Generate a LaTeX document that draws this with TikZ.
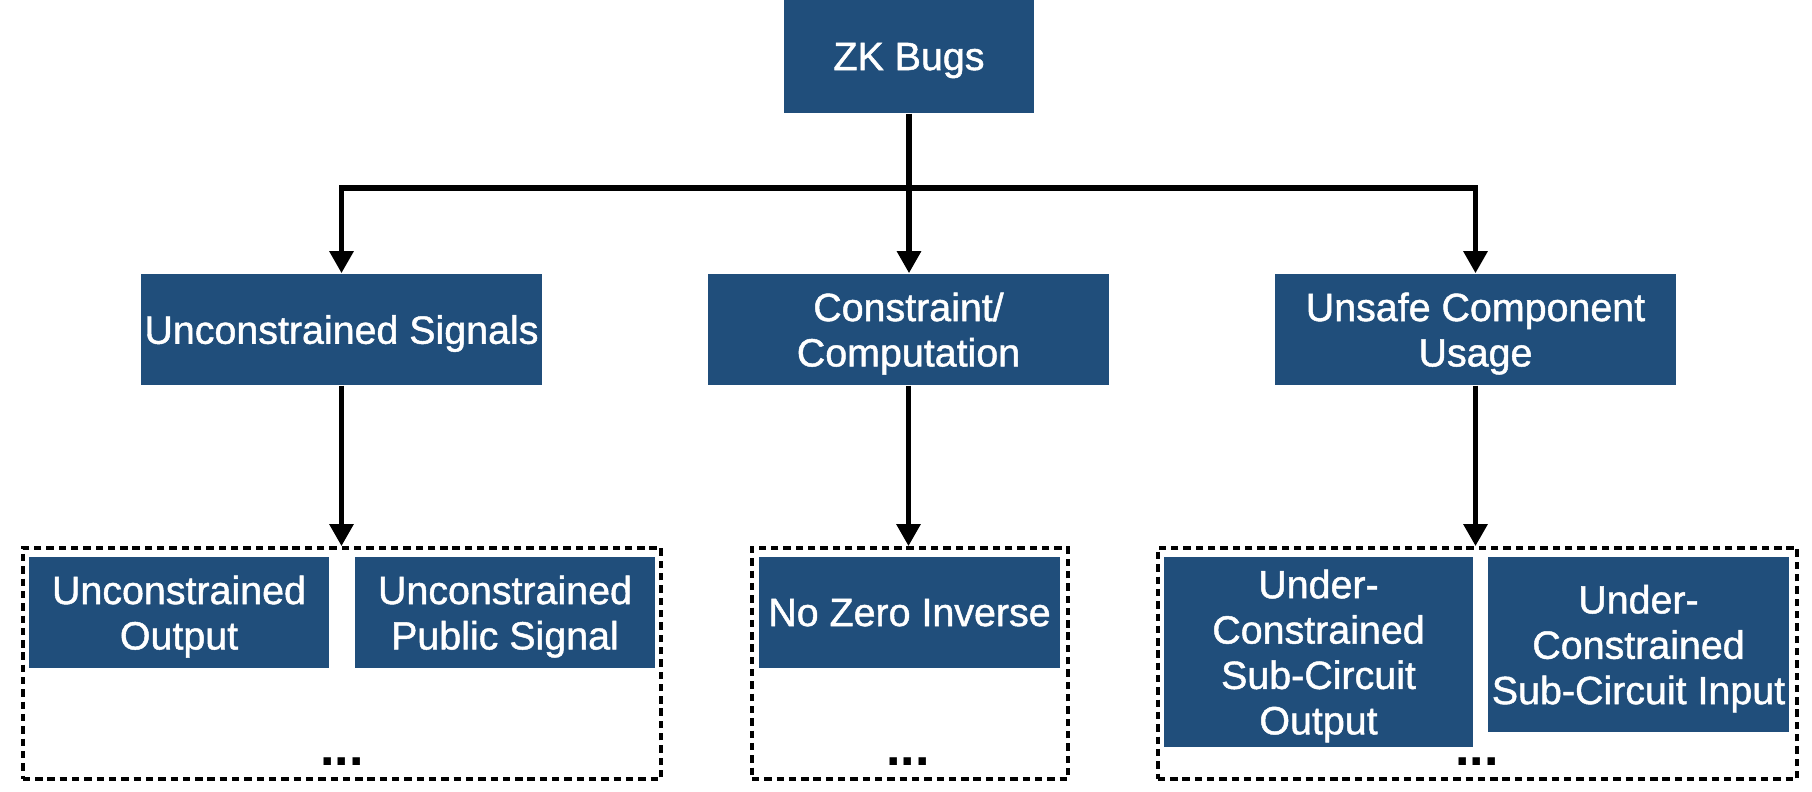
\documentclass[tikz,border=0pt]{standalone}
\usepackage{fontspec}
\setmainfont{Liberation Sans}
\newfontfamily\boxfont[FakeBold=1.2]{Liberation Sans}
\usetikzlibrary{arrows.meta}
\definecolor{bugblue}{RGB}{32,78,123}

\begin{document}
\begin{tikzpicture}[x=0.01cm, y=-0.01cm,
	bug/.style={shape=rectangle, fill=bugblue, text=white, inner sep=0pt, align=center,
		font=\boxfont\fontsize{11.2}{12.9}\selectfont, text depth=-1.2pt, minimum height=1.11cm},
	group/.style={shape=rectangle, draw, line width=1pt, dash pattern=on 2.1pt off 1.4pt,
		inner sep=0pt, minimum height=2.31cm},
	link/.style={line width=1.6pt},
	arr/.style={link, -{Triangle[width=0.23cm, length=0.22cm]}},
	more/.style={anchor=base, font=\bfseries\fontsize{14.8}{14.8}\selectfont}]
	\useasboundingbox (0,0) rectangle (1812,792);

	\node[bug, minimum width=2.5cm, minimum height=1.13cm] (bugs) at (909,56.5) {ZK Bugs};

	\node[bug, minimum width=4.01cm] (signals) at (341.5,329.5) {Unconstrained Signals};
	\node[bug, minimum width=4.01cm] (compute) at (908.5,329.5) {Constraint/\\Computation};
	\node[bug, minimum width=4.01cm] (usage) at (1475.5,329.5) {Unsafe Component\\Usage};

	% dotted groups
	\node[group, minimum width=6.38cm] (grpsig) at (342,663.5) {};
	\node[group, minimum width=3.16cm] (grpcomp) at (910,663.5) {};
	\node[group, minimum width=6.39cm] (grpuse) at (1477.5,663.5) {};

	\node[bug, minimum width=3cm] (output) at (179,612.5) {Unconstrained\\Output};
	\node[bug, minimum width=3cm] (public) at (505,612.5) {Unconstrained\\Public Signal};
	\node[bug, minimum width=3.01cm] (zeroinv) at (909.5,612.5) {No Zero Inverse};
	\node[bug, minimum width=3.09cm, minimum height=1.9cm] (subout) at (1318.5,652) {Under-\\Constrained\\Sub-Circuit\\Output};
	\node[bug, minimum width=3.01cm, minimum height=1.75cm] (subin) at (1638.5,644.5) {Under-\\Constrained\\Sub-Circuit Input};

	\node[more] (moresig) at (342,766) {...};
	\node[more] (morecomp) at (908,766) {...};
	\node[more] (moreuse) at (1477,766) {...};

	\coordinate (split) at (909,188);
	\draw[arr] (bugs.south) -- (bugs.south |- compute.north);
	\draw[arr] (split) -| (signals);
	\draw[arr] (split) -| (usage);

	\draw[arr] (signals.south) -- (signals.south |- grpsig.north);
	\draw[arr] (compute.south) -- (compute.south |- grpcomp.north);
	\draw[arr] (usage.south) -- (usage.south |- grpuse.north);
\end{tikzpicture}
\end{document}
